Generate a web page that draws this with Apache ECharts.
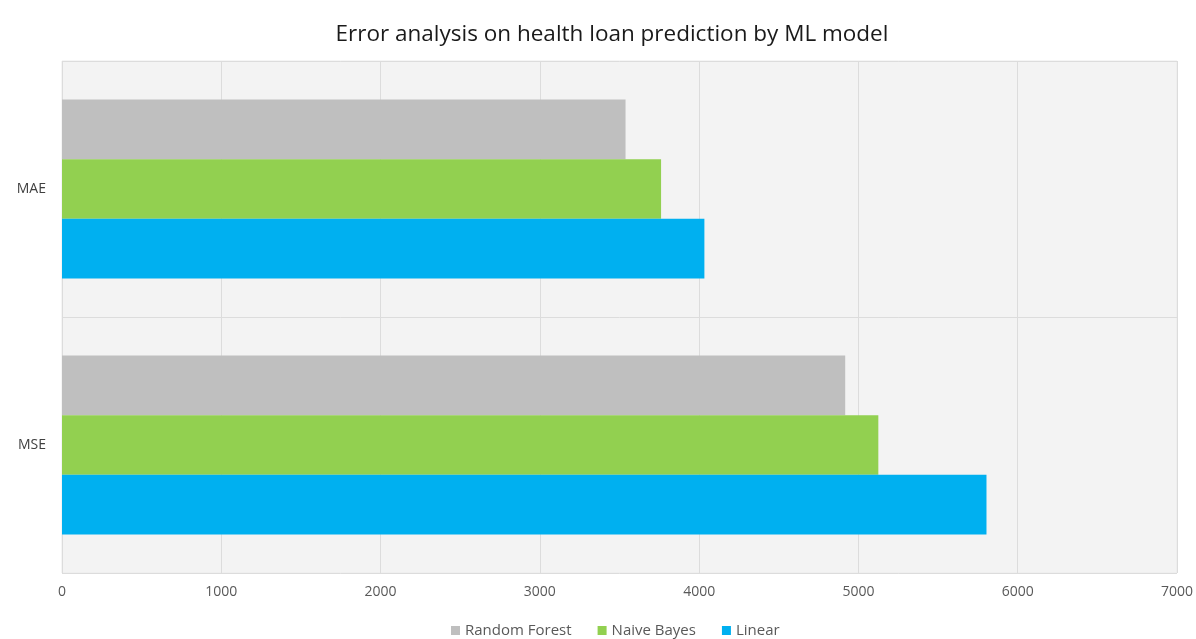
<!DOCTYPE html>
<html>
<head>
<meta charset="utf-8">
<script src="https://cdn.jsdelivr.net/npm/echarts@6/dist/echarts.min.js"></script>
<style>
html,body{margin:0;padding:0;background:#fff;}
#chart{width:1196px;height:639px;}
</style>
</head>
<body>
<div id="chart"></div>
<script>
const categories = ['MAE', 'MSE'];
const seriesNames = ['Random Forest', 'Naive Bayes', 'Linear'];
const randomForest = [3538, 4917];
const naiveBayes = [3761, 5125];
const linear = [4033, 5804];
const xTicks = [0, 1000, 2000, 3000, 4000, 5000, 6000, 7000];
const colors = ['#BFBFBF', '#92D050', '#00B0F0'];

const font = '"Open Sans", "Liberation Sans", sans-serif';
const chart = echarts.init(document.getElementById('chart'), null, {renderer: 'canvas'});
const values = [randomForest, naiveBayes, linear];
chart.setOption({
  animation: false,
  backgroundColor: '#ffffff',
  title: {
    text: 'Error analysis on health loan prediction by ML model',
    left: 607, top: 18, textAlign: 'center',
    textStyle: {fontFamily: font, fontSize: 22.5, fontWeight: 'normal', color: '#1A1A1A'}
  },
  legend: {
    data: seriesNames,
    left: 446, bottom: -4,
    itemWidth: 9, itemHeight: 9, itemGap: 26,
    icon: 'rect',
    textStyle: {fontFamily: font, fontSize: 15, color: '#595959'}
  },
  grid: {
    left: 62, right: 18, top: 61, bottom: 66,
    show: true, backgroundColor: '#F3F3F3', borderColor: '#EBEBEB', borderWidth: 1
  },
  xAxis: {
    type: 'value', min: xTicks[0], max: xTicks[xTicks.length - 1], interval: 1000,
    axisLine: {show: false}, axisTick: {show: false},
    splitLine: {show: true, lineStyle: {color: '#DCDCDC', width: 1}},
    axisLabel: {fontFamily: font, fontSize: 14, color: '#595959', margin: 12,
      formatter: v => String(v)}
  },
  yAxis: {
    type: 'category', data: categories, inverse: true,
    axisLine: {show: false}, axisTick: {show: false},
    splitLine: {show: true, lineStyle: {color: '#DCDCDC', width: 1}},
    axisLabel: {fontFamily: font, fontSize: 14, color: '#404040', margin: 16}
  },
  series: seriesNames.map((n, i) => ({
    name: n, type: 'bar', data: values[i],
    itemStyle: {color: colors[i]},
    barGap: '0%', barCategoryGap: '30%'
  }))
});
</script>
</body>
</html>
